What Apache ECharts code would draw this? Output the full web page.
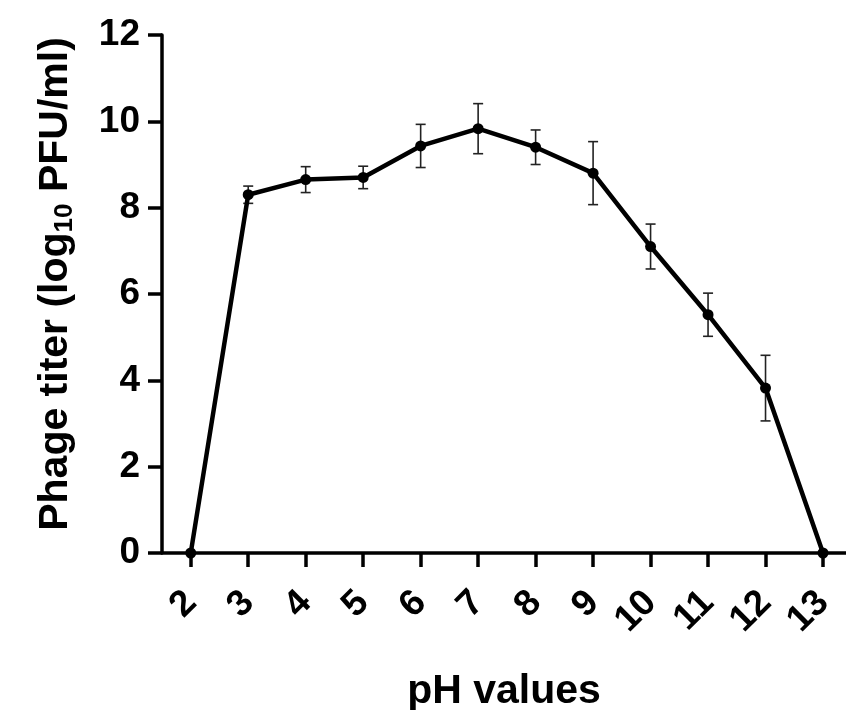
<!DOCTYPE html>
<html>
<head>
<meta charset="utf-8">
<script src="https://cdn.jsdelivr.net/npm/echarts@6/dist/echarts.min.js"></script>
<style>
html,body{margin:0;padding:0;background:#fff;}
#chart{width:846px;height:710px;}
</style>
</head>
<body>
<div id="chart"></div>
<script>
var phValues = [2, 3, 4, 5, 6, 7, 8, 9, 10, 11, 12, 13];
var titer = [0, 8.3, 8.65, 8.7, 9.43, 9.83, 9.4, 8.8, 7.1, 5.52, 3.82, 0];
var titerSD = [0, 0.2, 0.3, 0.26, 0.5, 0.58, 0.4, 0.73, 0.52, 0.5, 0.76, 0];
var yTicks = [0, 2, 4, 6, 8, 10, 12];

var FONT = '"Liberation Sans", Arial, Helvetica, sans-serif';
var lineData = phValues.map(function (p, i) { return [p, titer[i]]; });
var errData = phValues.map(function (p, i) { return [p, titer[i] - titerSD[i], titer[i] + titerSD[i]]; })
  .filter(function (d, i) { return titerSD[i] > 0; });

var chart = echarts.init(document.getElementById('chart'), null, {renderer: 'canvas'});
chart.setOption({
  animation: false,
  backgroundColor: '#fff',
  grid: {left: 162, right: 0, top: 35, bottom: 157, containLabel: false, outerBoundsMode: 'none'},
  xAxis: {
    type: 'value',
    min: 1.5,
    max: 13.4,
    name: 'pH values',
    nameLocation: 'middle',
    nameGap: 118,
    nameTextStyle: {fontFamily: FONT, fontWeight: 'bold', fontSize: 41, color: '#000'},
    axisLine: {show: true, onZero: false, lineStyle: {color: '#000', width: 3.5}},
    axisTick: {show: true, length: 14, lineStyle: {color: '#000', width: 3.5}, customValues: phValues},
    axisLabel: {
      show: true, customValues: phValues, rotate: 45, margin: 44,
      fontFamily: FONT, fontWeight: 'bold', fontSize: 37, color: '#000',
      formatter: function (v) { return String(Math.round(v)); }
    },
    splitLine: {show: false}
  },
  yAxis: {
    type: 'value',
    min: 0,
    max: 12,
    interval: 2,
    name: '{t|Phage titer (log}{sub|10}{t| PFU/ml)}',
    nameLocation: 'middle',
    nameGap: 84,
    nameRotate: 90,
    nameTextStyle: {
      color: '#000',
      padding: [0, 0, 0, 20],
      rich: {
        t: {fontFamily: FONT, fontWeight: 'bold', fontSize: 41, color: '#000'},
        sub: {fontFamily: FONT, fontWeight: 'bold', fontSize: 26, color: '#000', padding: [19, 0, 0, 0]}
      }
    },
    axisLine: {show: true, lineStyle: {color: '#000', width: 3.5}},
    axisTick: {show: true, length: 14, lineStyle: {color: '#000', width: 3.5}},
    axisLabel: {
      show: true, margin: 22,
      fontFamily: FONT, fontWeight: 'bold', fontSize: 37, color: '#000'
    },
    splitLine: {show: false}
  },
  series: [
    {
      type: 'custom',
      z: 1,
      data: errData,
      renderItem: function (params, api) {
        var x = api.value(0);
        var lo = api.coord([x, api.value(1)]);
        var hi = api.coord([x, api.value(2)]);
        var half = 5;
        var style = {stroke: '#222', lineWidth: 1.6};
        return {
          type: 'group',
          children: [
            {type: 'line', shape: {x1: lo[0], y1: lo[1], x2: hi[0], y2: hi[1]}, style: style},
            {type: 'line', shape: {x1: lo[0] - half, y1: lo[1], x2: lo[0] + half, y2: lo[1]}, style: style},
            {type: 'line', shape: {x1: hi[0] - half, y1: hi[1], x2: hi[0] + half, y2: hi[1]}, style: style}
          ]
        };
      }
    },
    {
      type: 'line',
      z: 2,
      data: lineData,
      symbol: 'circle',
      symbolSize: 11,
      itemStyle: {color: '#000'},
      lineStyle: {color: '#000', width: 4.5},
      clip: false
    }
  ]
});
</script>
</body>
</html>
